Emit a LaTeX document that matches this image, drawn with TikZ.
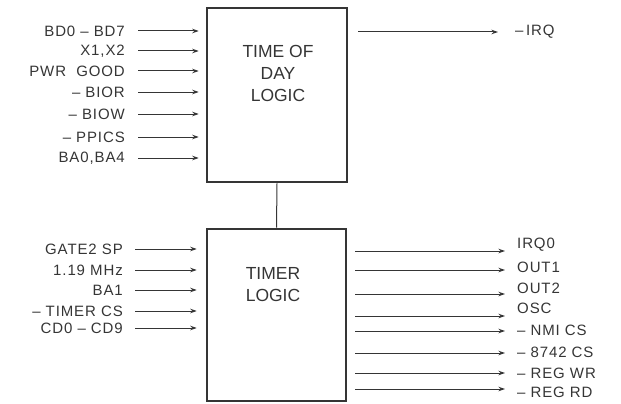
\documentclass[tikz,border=0pt]{standalone}
\usepackage{fontspec}
\setmainfont{Liberation Sans}[LetterSpace=6]
\newfontfamily\boxfont{Liberation Sans}
\usetikzlibrary{arrows.meta}
\definecolor{ink}{HTML}{353535}
\begin{document}
\begin{tikzpicture}[x=1pt,y=-1pt,
  box/.style={draw=ink,line width=2.6pt,rectangle,inner sep=0pt},
  boxtxt/.style={text=ink,font=\boxfont\fontsize{17.5}{22}\selectfont,align=center,inner sep=0pt},
  lbl/.style={text=ink,font=\fontsize{15}{17}\selectfont,inner sep=0pt},
  sig/.style={draw=ink,line width=1pt,-{Stealth[length=6.5pt,width=4.5pt]}}]
\useasboundingbox (0,0) rectangle (621,404);
% boxes
\node[box,minimum width=140pt,minimum height=174pt] (tod) at (277,95) {};
\node[box,minimum width=139pt,minimum height=172pt] (tim) at (276.5,315) {};
\node[boxtxt] (todlbl) at (278,73) {TIME OF\\DAY\\LOGIC};
\node[boxtxt] (timlbl) at (273,285) {TIMER\\LOGIC};
\draw[draw=ink,line width=1pt] (tod.south) -- (tim.north);
% top inputs
\foreach \n/\y/\t in {a1/31/BD0 – BD7, a2/51/{X1,X2}, a3/71/PWR\ \ GOOD, a4/92/– BIOR, a5/114/– BIOW, a6/137/– PPICS, a7/158/{BA0,BA4}}{
  \node[lbl,anchor=east] (\n) at (125,\y) {\t};
  \draw[sig,shorten <=13pt,shorten >=7pt] (\n.east) -- (tod.west |- \n.east);
}
% bottom inputs
\foreach \n/\y/\t in {b1/249/GATE2 SP, b2/270/1.19 MHz, b3/290/BA1, b4/311/– TIMER CS, b5/328/CD0 – CD9}{
  \node[lbl,anchor=east] (\n) at (123,\y) {\t};
  \draw[sig,shorten <=12pt,shorten >=9pt] (\n.east) -- (tim.west |- \n.east);
}
% IRQ output
\node[lbl,anchor=west] (irq) at (515,32) {–\,IRQ};
\draw[sig,shorten <=10pt,shorten >=17pt] (tod.east |- irq.west) -- (irq.west);
% timer outputs
\foreach \n/\ya/\yl/\t in {c1/251/245/IRQ0, c2/270/267/OUT1, c3/294/288/OUT2, c4/316/308/OSC, c5/331/330/– NMI CS, c6/353/352/– 8742 CS, c7/373/373/– REG WR, c8/389/392/– REG RD}{
  \coordinate (\n e) at (505,\ya);
  \node[lbl,anchor=west] (\n) at (517,\yl) {\t};
  \draw[sig,shorten <=8pt] (tim.east |- \n e) -- (\n e);
}
\end{tikzpicture}
\end{document}
